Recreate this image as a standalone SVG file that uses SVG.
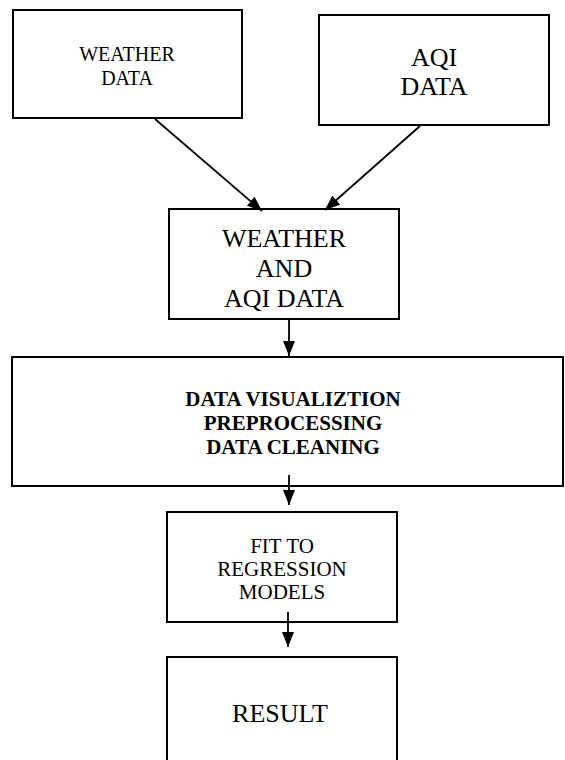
<svg xmlns="http://www.w3.org/2000/svg" width="565" height="760" viewBox="0 0 565 760">
<style>
.box{fill:#fff;stroke:#000;stroke-width:2}
text{font-family:'Liberation Serif','Times New Roman','DejaVu Serif',serif;fill:#000;text-anchor:middle}
.b{font-weight:bold}
.c{stroke:#000;stroke-width:1.8;fill:none}
</style>
<defs>
<marker id="ah" markerUnits="userSpaceOnUse" markerWidth="15" markerHeight="12" refX="15" refY="6" orient="auto">
<path d="M0,0 L15,6 L0,12 z" fill="#000"/>
</marker>
</defs>
<rect width="565" height="760" fill="#fff"/>
<g id="weather">
<rect class="box" x="13" y="10" width="229" height="108"/>
<text font-family="Liberation Serif, serif" font-size="20" x="127" y="61">WEATHER</text>
<text font-family="Liberation Serif, serif" font-size="20" x="127" y="85">DATA</text>
</g>
<g id="aqi">
<rect class="box" x="319" y="15" width="230" height="110"/>
<text font-family="Liberation Serif, serif" font-size="26" x="434" y="66">AQI</text>
<text font-family="Liberation Serif, serif" font-size="26" x="434" y="95">DATA</text>
</g>
<g id="combined">
<rect class="box" x="169" y="209" width="230" height="110"/>
<text font-family="Liberation Serif, serif" font-size="26" x="284" y="247">WEATHER</text>
<text font-family="Liberation Serif, serif" font-size="26" x="284" y="277">AND</text>
<text font-family="Liberation Serif, serif" font-size="26" x="284" y="307">AQI DATA</text>
</g>
<g id="preprocess">
<rect class="box" x="12" y="357" width="551" height="129"/>
<text class="b" font-family="Liberation Serif, serif" font-size="21" x="293" y="406">DATA VISUALIZTION</text>
<text class="b" font-family="Liberation Serif, serif" font-size="21" x="293" y="430">PREPROCESSING</text>
<text class="b" font-family="Liberation Serif, serif" font-size="21" x="293" y="454">DATA CLEANING</text>
</g>
<g id="fit">
<rect class="box" x="167" y="512" width="230" height="110"/>
<text font-family="Liberation Serif, serif" font-size="21" x="282" y="553">FIT TO</text>
<text font-family="Liberation Serif, serif" font-size="21" x="282" y="576">REGRESSION</text>
<text font-family="Liberation Serif, serif" font-size="21" x="282" y="599">MODELS</text>
</g>
<g id="result">
<rect class="box" x="167" y="657" width="230" height="120"/>
<text font-family="Liberation Serif, serif" font-size="26" x="280" y="722">RESULT</text>
</g>
<g id="connectors">
<line class="c" x1="155" y1="119" x2="262" y2="211" marker-end="url(#ah)"/>
<line class="c" x1="420" y1="126" x2="325" y2="210" marker-end="url(#ah)"/>
<line class="c" x1="289" y1="319" x2="289" y2="356" marker-end="url(#ah)"/>
<line class="c" x1="289" y1="475" x2="289" y2="505" marker-end="url(#ah)"/>
<line class="c" x1="288" y1="612" x2="288" y2="647" marker-end="url(#ah)"/>
</g>
</svg>
